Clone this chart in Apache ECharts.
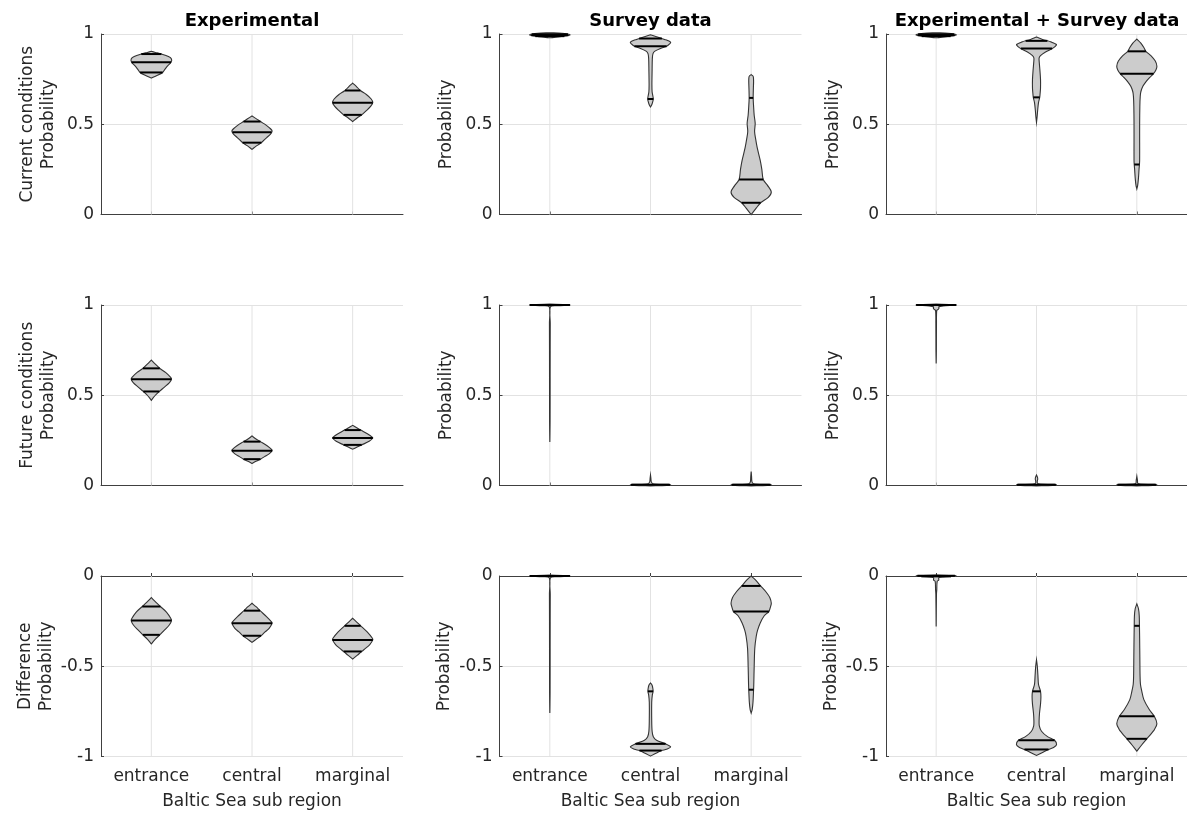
<!DOCTYPE html>
<html>
<head>
<meta charset="utf-8">
<title>Baltic Sea violins</title>
<script src="https://cdn.jsdelivr.net/npm/echarts@6/dist/echarts.min.js"></script>
<style>
  html, body { margin: 0; background: #fff; }
  #main { width: 1187px; height: 813px; }
</style>
</head>
<body>
<div id="main"></div>
<script>
// categories and labels
var regions = ['entrance', 'central', 'marginal'];
var colTitles = ['Experimental', 'Survey data', 'Experimental + Survey data'];
var rowNames = ['Current conditions', 'Future conditions', 'Difference'];
var xName = 'Baltic Sea sub region';

// violin outlines per panel: [probability, relative half width], one list per region
var expCurrentShape = [
  [[0.904,0],[0.898,0.2],[0.889,0.5],[0.875,0.85],[0.862,1],[0.843,0.98],[0.825,0.82],[0.805,0.68],[0.787,0.56],[0.77,0.28],[0.756,0]],
  [[0.546,0],[0.53,0.22],[0.515,0.42],[0.495,0.7],[0.475,0.92],[0.462,1],[0.445,0.92],[0.425,0.72],[0.41,0.58],[0.398,0.47],[0.38,0.22],[0.361,0]],
  [[0.728,0],[0.71,0.18],[0.687,0.38],[0.665,0.68],[0.64,0.92],[0.62,1],[0.6,0.9],[0.575,0.68],[0.552,0.45],[0.535,0.22],[0.515,0]]
];
var expCurrentLines = [[0.889,0.843,0.787],[0.515,0.456,0.398],[0.687,0.619,0.552]];

var expFutureShape = [
  [[0.695,0],[0.672,0.2],[0.649,0.42],[0.625,0.72],[0.6,0.95],[0.589,1],[0.57,0.9],[0.545,0.65],[0.521,0.4],[0.5,0.2],[0.472,0]],
  [[0.274,0],[0.258,0.2],[0.243,0.42],[0.22,0.75],[0.2,0.97],[0.192,1],[0.175,0.85],[0.16,0.62],[0.146,0.42],[0.134,0.2],[0.122,0]],
  [[0.333,0],[0.32,0.2],[0.307,0.4],[0.285,0.75],[0.268,0.97],[0.263,1],[0.245,0.82],[0.225,0.45],[0.213,0.22],[0.201,0]]
];
var expFutureLines = [[0.649,0.589,0.521],[0.243,0.192,0.146],[0.307,0.263,0.225]];

var expDiffShape = [
  [[-0.12,0],[-0.145,0.22],[-0.169,0.45],[-0.2,0.75],[-0.235,0.97],[-0.247,1],[-0.27,0.9],[-0.3,0.65],[-0.326,0.42],[-0.35,0.2],[-0.376,0]],
  [[-0.151,0],[-0.17,0.2],[-0.192,0.4],[-0.225,0.72],[-0.255,0.98],[-0.262,1],[-0.29,0.85],[-0.31,0.65],[-0.331,0.45],[-0.35,0.22],[-0.368,0]],
  [[-0.234,0],[-0.255,0.2],[-0.276,0.4],[-0.31,0.72],[-0.345,0.98],[-0.354,1],[-0.38,0.85],[-0.4,0.65],[-0.418,0.45],[-0.44,0.22],[-0.46,0]]
];
var expDiffLines = [[-0.169,-0.247,-0.326],[-0.192,-0.262,-0.331],[-0.276,-0.354,-0.418]];

var surveyCurrentShape = [
  [[1.007,0],[1.004,0.6],[0.996,1],[0.99,0.85],[0.983,0.4],[0.979,0]],
  [[0.996,0],[0.985,0.3],[0.97,0.7],[0.955,1],[0.945,0.95],[0.932,0.8],[0.92,0.5],[0.905,0.22],[0.89,0.12],[0.86,0.09],[0.8,0.08],[0.72,0.07],[0.68,0.08],[0.655,0.12],[0.64,0.14],[0.62,0.1],[0.605,0.05],[0.596,0]],
  [[0.775,0],[0.765,0.1],[0.74,0.12],[0.7,0.11],[0.646,0.1],[0.6,0.12],[0.55,0.15],[0.505,0.2],[0.46,0.17],[0.42,0.22],[0.37,0.3],[0.3,0.45],[0.25,0.53],[0.194,0.6],[0.16,0.82],[0.125,1],[0.095,0.85],[0.065,0.47],[0.035,0.25],[0,0]]
];
var surveyCurrentLines = [[0.998,0.993,0.988],[0.975,0.932,0.64],[0.646,0.194,0.065]];

var surveyFutureShape = [
  [[1.005,0],[1.003,0.9],[1,1],[0.996,0.4],[0.99,0.03],[0.9,0.02],[0.6,0.015],[0.35,0.012],[0.241,0]],
  [[0.058,0],[0.04,0.02],[0.02,0.04],[0.01,0.12],[0.006,0.9],[0.003,1],[0,0.8],[-0.002,0]],
  [[0.077,0],[0.05,0.02],[0.02,0.04],[0.01,0.12],[0.006,0.9],[0.003,1],[0,0.8],[-0.002,0]]
];
var surveyFutureLines = [[1],[0.004],[0.004]];

var surveyDiffShape = [
  [[0.005,0],[0.003,0.9],[0,1],[-0.004,0.4],[-0.01,0.03],[-0.1,0.02],[-0.4,0.015],[-0.65,0.012],[-0.759,0]],
  [[-0.593,0],[-0.605,0.08],[-0.625,0.12],[-0.64,0.13],[-0.66,0.09],[-0.7,0.06],[-0.8,0.06],[-0.86,0.08],[-0.89,0.14],[-0.91,0.3],[-0.93,0.75],[-0.947,1],[-0.96,0.8],[-0.967,0.55],[-0.98,0.3],[-0.998,0]],
  [[0,0],[-0.02,0.2],[-0.055,0.47],[-0.09,0.75],[-0.12,0.93],[-0.151,1],[-0.175,0.95],[-0.197,0.88],[-0.22,0.65],[-0.26,0.45],[-0.3,0.32],[-0.335,0.25],[-0.4,0.18],[-0.5,0.15],[-0.6,0.13],[-0.63,0.12],[-0.7,0.09],[-0.74,0.05],[-0.759,0]]
];
var surveyDiffLines = [[0],[-0.639,-0.93,-0.967],[-0.055,-0.197,-0.63]];

var combCurrentShape = [
  [[1.007,0],[1.004,0.6],[0.996,1],[0.99,0.85],[0.983,0.4],[0.979,0]],
  [[0.983,0],[0.97,0.3],[0.955,0.75],[0.941,1],[0.93,0.92],[0.919,0.78],[0.9,0.45],[0.88,0.2],[0.867,0.13],[0.84,0.14],[0.8,0.17],[0.75,0.2],[0.7,0.2],[0.67,0.18],[0.649,0.16],[0.62,0.1],[0.58,0.06],[0.54,0.03],[0.51,0]],
  [[0.972,0],[0.95,0.2],[0.925,0.35],[0.904,0.45],[0.88,0.7],[0.85,0.92],[0.821,1],[0.8,0.95],[0.78,0.83],[0.76,0.65],[0.735,0.45],[0.71,0.3],[0.68,0.2],[0.655,0.17],[0.6,0.15],[0.5,0.14],[0.4,0.14],[0.3,0.14],[0.277,0.13],[0.25,0.11],[0.2,0.08],[0.16,0.04],[0.142,0]]
];
var combCurrentLines = [[0.998,0.993,0.988],[0.962,0.919,0.649],[0.904,0.78,0.277]];

var combFutureShape = [
  [[1.005,0],[1.003,0.9],[1,1],[0.995,0.35],[0.99,0.13],[0.983,0.14],[0.976,0.1],[0.97,0.03],[0.9,0.015],[0.75,0.01],[0.676,0]],
  [[0.058,0],[0.045,0.05],[0.035,0.06],[0.025,0.04],[0.012,0.05],[0.008,0.2],[0.006,0.9],[0.003,1],[0,0.8],[-0.002,0]],
  [[0.051,0],[0.03,0.03],[0.012,0.05],[0.008,0.2],[0.006,0.9],[0.003,1],[0,0.8],[-0.002,0]]
];
var combFutureLines = [[1],[0.004],[0.004]];

var combDiffShape = [
  [[0.005,0],[0.003,0.9],[0,1],[-0.005,0.35],[-0.01,0.13],[-0.022,0.13],[-0.03,0.05],[-0.077,0.03],[-0.1,0.015],[-0.28,0]],
  [[-0.464,0],[-0.5,0.04],[-0.55,0.07],[-0.6,0.1],[-0.639,0.2],[-0.67,0.22],[-0.71,0.2],[-0.76,0.15],[-0.8,0.13],[-0.83,0.14],[-0.86,0.25],[-0.89,0.55],[-0.91,0.9],[-0.934,1],[-0.95,0.85],[-0.961,0.6],[-0.975,0.35],[-0.994,0]],
  [[-0.155,0],[-0.18,0.08],[-0.22,0.12],[-0.276,0.13],[-0.35,0.14],[-0.45,0.15],[-0.55,0.16],[-0.6,0.18],[-0.64,0.25],[-0.685,0.35],[-0.74,0.62],[-0.777,0.87],[-0.818,1],[-0.85,0.88],[-0.869,0.75],[-0.902,0.5],[-0.935,0.25],[-0.97,0]]
];
var combDiffLines = [[0.002,-0.002],[-0.639,-0.91,-0.961],[-0.276,-0.777,-0.902]];

// rows: current, future, difference; columns: experimental, survey, combined
var panelShapes = [
  expCurrentShape, surveyCurrentShape, combCurrentShape,
  expFutureShape, surveyFutureShape, combFutureShape,
  expDiffShape, surveyDiffShape, combDiffShape
];
var panelLines = [
  expCurrentLines, surveyCurrentLines, combCurrentLines,
  expFutureLines, surveyFutureLines, combFutureLines,
  expDiffLines, surveyDiffLines, combDiffLines
];

var colLeft = [101, 499.5, 886];
var rowTop = [34, 305, 576];
var plotW = 302, plotH = 180.5;
var txt = '#262626';
var font = 'DejaVu Sans';

// half width at a given probability
function widthAt(prof, y) {
  for (var k = 0; k < prof.length - 1; k++) {
    var a = prof[k], b = prof[k + 1];
    if (y <= a[0] && y >= b[0]) {
      if (a[0] === b[0]) return Math.max(a[1], b[1]);
      var t = (a[0] - y) / (a[0] - b[0]);
      return a[1] + t * (b[1] - a[1]);
    }
  }
  return 0;
}

function violinRenderer(shapes, lines, yMin, yMax) {
  return function (params, api) {
    var i = api.value(0);
    var maxHalf = api.size([1, 0])[0] * 0.2;
    var prof = shapes[i];
    var left = [], right = [];
    prof.forEach(function (p) {
      var c = api.coord([i, p[0]]);
      left.push([c[0] - p[1] * maxHalf, c[1]]);
      right.unshift([c[0] + p[1] * maxHalf, c[1]]);
    });
    var top = api.coord([i, yMax]);
    var bot = api.coord([i, yMin]);
    var children = [{
      type: 'line',
      shape: { x1: top[0], y1: top[1], x2: bot[0], y2: bot[1] },
      style: { stroke: '#e2e2e2', lineWidth: 1 }
    }, {
      type: 'polygon',
      shape: { points: left.concat(right), smooth: 0.3 },
      style: { fill: '#cccccc', stroke: '#333333', lineWidth: 1.1 }
    }];
    lines[i].forEach(function (q) {
      var w = Math.max(widthAt(prof, q) * maxHalf, 1);
      var c = api.coord([i, q]);
      children.push({
        type: 'line',
        shape: { x1: c[0] - w, y1: c[1], x2: c[0] + w, y2: c[1] },
        style: { stroke: '#000', lineWidth: 2 }
      });
    });
    return { type: 'group', children: children };
  };
}

var grids = [], xAxes = [], yAxes = [], series = [], graphics = [];

for (var r = 0; r < 3; r++) {
  for (var c = 0; c < 3; c++) {
    var idx = r * 3 + c;
    var yMin = r === 2 ? -1 : 0;
    var yMax = r === 2 ? 0 : 1;
    grids.push({ left: colLeft[c], top: rowTop[r], width: plotW, height: plotH });
    xAxes.push({
      type: 'category',
      gridIndex: idx,
      data: regions,
      boundaryGap: true,
      axisLine: { lineStyle: { color: '#404040', width: 1 } },
      axisTick: { show: true, alignWithLabel: true, inside: true, length: 3, lineStyle: { color: '#404040' } },
      axisLabel: { show: r === 2, fontSize: 17, fontFamily: font, color: txt, margin: 12 },
      splitLine: { show: false },
      name: r === 2 ? xName : '',
      nameLocation: 'middle',
      nameGap: 37,
      nameTextStyle: { fontSize: 17, fontFamily: font, color: txt }
    });
    yAxes.push({
      type: 'value',
      gridIndex: idx,
      min: yMin,
      max: yMax,
      interval: 0.5,
      axisLine: { show: true, lineStyle: { color: '#404040', width: 1 } },
      axisTick: { show: true, inside: true, length: 3, lineStyle: { color: '#404040' } },
      axisLabel: { fontSize: 17, fontFamily: font, color: txt, margin: 7 },
      splitLine: { show: true, lineStyle: { color: '#e2e2e2', width: 1 } },
      name: c === 0 ? rowNames[r] + '\nProbability' : 'Probability',
      nameLocation: 'middle',
      nameRotate: 90,
      nameGap: 42,
      nameTextStyle: { fontSize: 17, fontFamily: font, color: txt, lineHeight: 21 }
    });
    series.push({
      type: 'custom',
      xAxisIndex: idx,
      yAxisIndex: idx,
      renderItem: violinRenderer(panelShapes[idx], panelLines[idx], yMin, yMax),
      data: regions.map(function (name, i) { return [i, panelShapes[idx][i][0][0]]; }),
      silent: true
    });
  }
}

colTitles.forEach(function (t, c) {
  graphics.push({
    type: 'text',
    x: colLeft[c] + plotW / 2,
    y: 12,
    style: { text: t, fontSize: 18, fontWeight: 'bold', fontFamily: font, fill: '#000', align: 'center' }
  });
});

var chart = echarts.init(document.getElementById('main'));
chart.setOption({
  animation: false,
  backgroundColor: '#fff',
  grid: grids,
  xAxis: xAxes,
  yAxis: yAxes,
  series: series,
  graphic: graphics
});
</script>
</body>
</html>
